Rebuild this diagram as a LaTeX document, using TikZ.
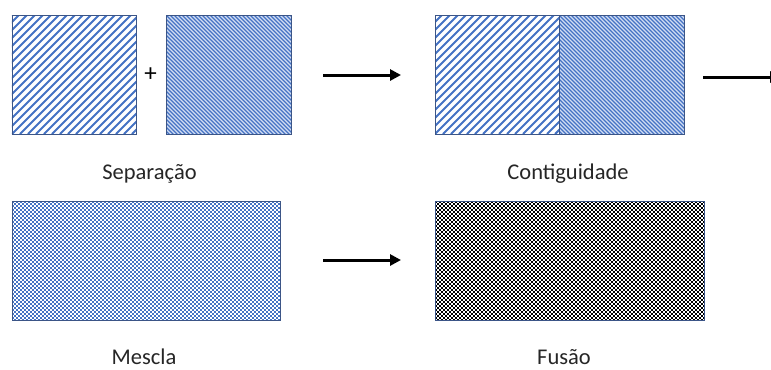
\documentclass[tikz,border=0pt]{standalone}
\usepackage{fontspec}
\setmainfont{Carlito}
\usetikzlibrary{arrows.meta}

\definecolor{hatchblue}{HTML}{4472C4}
\definecolor{paleblue}{HTML}{D3DEF2}
\definecolor{edgeblue}{HTML}{3B5587}
\definecolor{labelgray}{HTML}{262626}

\tikzset{
  box/.style={rectangle, draw=edgeblue, line width=0.9bp, inner sep=0pt,
    outer sep=0pt, minimum height=119bp},
  % wide upward diagonal hatching, 8bp horizontal period
  widehatch/.style={fill=white, path picture={
    \foreach \k in {-16,...,16}
      \draw[hatchblue, line width=2.1bp]
        ([xshift=\k*8bp]path picture bounding box.south west) -- ++(130,-130);
  }},
  % fine downward diagonal hatching, 4bp horizontal period
  finehatch/.style={fill=paleblue, path picture={
    \foreach \k in {-32,...,32}
      \draw[hatchblue, line width=1.2bp]
        ([xshift=\k*4bp]path picture bounding box.north west) -- ++(130,130);
  }},
  % small checkerboard with 2bp squares, drawn as dashed rows
  checker/.style={fill=white, path picture={
    \foreach \r [evaluate=\r as \ph using {2*mod(\r,2)}] in {0,...,59}
      \draw[#1, line width=2bp, dash pattern=on 2bp off 2bp,
            dash phase=\ph bp]
        ([yshift=-1bp-2bp*\r]path picture bounding box.north west) -- ++(280,0);
  }},
  caption/.style={anchor=base, inner sep=0pt, text=labelgray,
    font=\fontsize{22.5bp}{27bp}\selectfont},
  plus/.style={inner sep=0pt, text=black,
    font=\fontsize{25bp}{28bp}\selectfont},
  stage/.style={line width=3bp, -{Triangle[length=11bp,width=11bp]}}
}

\begin{document}
\begin{tikzpicture}[x=1bp, y=-1bp]
  \path[use as bounding box, clip] (0,0) rectangle (771,369);
  \fill[white] (0,0) rectangle (771,369);

  % top row: two separate blocks, then the joined pair
  \node[box, widehatch, minimum width=124bp] (sepA) at (74,74.5) {};
  \node[plus] (plusSign) at (150.5,75) {+};
  \node[box, finehatch, minimum width=125bp] (sepB) at (228.5,74.5) {};

  \node[box, widehatch, minimum width=124bp] (conL) at (497,74.5) {};
  \node[box, finehatch, minimum width=125bp] (conR) at (621.5,74.5) {};

  \node[caption] (capSep) at (149.5,179) {Separação};
  \node[caption] (capCon) at (568,179) {Contiguidade};

  % bottom row: mixed block and fused block
  \node[box, checker=hatchblue, minimum width=268bp] (mix) at (146,260.5) {};
  \node[box, checker=black, minimum width=269bp] (fus) at (569.5,260.5) {};

  \node[caption] (capMix) at (144,364) {Mescla};
  \node[caption] (capFus) at (564,364) {Fusão};

  % stage arrows
  \coordinate (a1s) at (323,75);
  \coordinate (a1e) at (401,75);
  \coordinate (a2s) at (703,77);
  \coordinate (a2e) at (781,77);
  \coordinate (a3s) at (323,260);
  \coordinate (a3e) at (401,260);
  \draw[stage] (a1s) -- (a1e);
  \draw[stage] (a2s) -- (a2e);
  \draw[stage] (a3s) -- (a3e);
\end{tikzpicture}
\end{document}
